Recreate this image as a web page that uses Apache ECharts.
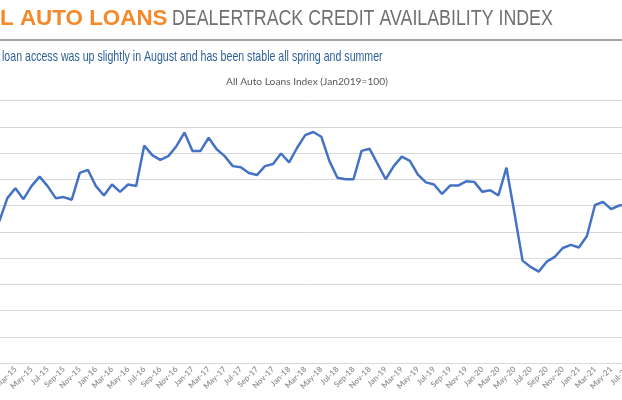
<!DOCTYPE html>
<html>
<head>
<meta charset="utf-8">
<script src="https://cdn.jsdelivr.net/npm/echarts@6/dist/echarts.min.js"></script>
<style>
html,body{margin:0;padding:0;background:#fff;}
#chart{width:622px;height:400px;}
</style>
</head>
<body>
<div id="chart"></div>
<script>
var categories = [
 "Jan-15","Feb-15","Mar-15","Apr-15","May-15","Jun-15","Jul-15","Aug-15","Sep-15","Oct-15","Nov-15","Dec-15",
 "Jan-16","Feb-16","Mar-16","Apr-16","May-16","Jun-16","Jul-16","Aug-16","Sep-16","Oct-16","Nov-16","Dec-16",
 "Jan-17","Feb-17","Mar-17","Apr-17","May-17","Jun-17","Jul-17","Aug-17","Sep-17","Oct-17","Nov-17","Dec-17",
 "Jan-18","Feb-18","Mar-18","Apr-18","May-18","Jun-18","Jul-18","Aug-18","Sep-18","Oct-18","Nov-18","Dec-18",
 "Jan-19","Feb-19","Mar-19","Apr-19","May-19","Jun-19","Jul-19","Aug-19","Sep-19","Oct-19","Nov-19","Dec-19",
 "Jan-20","Feb-20","Mar-20","Apr-20","May-20","Jun-20","Jul-20","Aug-20","Sep-20","Oct-20","Nov-20","Dec-20",
 "Jan-21","Feb-21","Mar-21","Apr-21","May-21","Jun-21","Jul-21","Aug-21"
];
var indexValues = [
 92.0,96.4,98.3,96.2,98.7,100.5,98.7,96.4,96.6,96.1,101.2,101.8,
 98.7,96.9,99.0,97.6,99.0,98.7,106.4,104.6,103.7,104.4,106.3,108.9,
 105.4,105.4,107.9,105.7,104.4,102.5,102.3,101.2,100.8,102.5,102.9,104.9,
 103.2,106.0,108.4,109.0,108.1,103.5,100.3,100.0,100.0,105.4,105.8,102.9,
 100.0,102.5,104.3,103.5,100.9,99.4,99.0,97.2,98.8,98.8,99.6,99.5,
 97.6,97.9,96.9,102.2,93.5,84.5,83.3,82.4,84.3,85.2,86.9,87.5,
 87.0,89.2,95.1,95.7,94.3,95.0,95.1,95.8
];
var titleOrange = "L AUTO LOANS";
var titleGray = "DEALERTRACK CREDIT AVAILABILITY INDEX";
var subtitle = "loan access was up slightly in August and has been stable all spring and summer";
var chartTitle = "All Auto Loans Index (Jan2019=100)";

var chart = echarts.init(document.getElementById('chart'), null, {renderer:'canvas'});
chart.setOption({
  animation: false,
  backgroundColor: '#ffffff',
  graphic: [
    {type:'text', x: 0, y: 8, style:{x:0, y:0, text:titleOrange, font:'bold 22.4px "Liberation Sans", Arial, sans-serif', fill:'#F5892A', verticalAlign:'top'}},
    {type:'text', x: 172, y: 8, scaleX: 0.828, style:{x:0, y:0, text:titleGray, font:'21.5px "Liberation Sans", Arial, sans-serif', fill:'#707070', verticalAlign:'top'}},
    {type:'rect', shape:{x:0, y:39, width:622, height:2}, style:{fill:'#A6A6A6'}},
    {type:'text', x: 2, y: 49.5, scaleX: 0.731, style:{x:0, y:0, text:subtitle, font:'14.5px "Liberation Sans", Arial, sans-serif', fill:'#2E5F99', verticalAlign:'top'}},
    {type:'text', x: 226, y: 77, style:{x:0, y:0, text:chartTitle, font:'10.2px Lato, "Open Sans", sans-serif', fill:'#595959', verticalAlign:'top'}}
  ],
  grid: {left: -0.7, right: -13.25, top: 100.5, bottom: 37, containLabel: false, outerBoundsMode: 'none'},
  xAxis: {
    type: 'category', data: categories, boundaryGap: false,
    axisLine: {show: true, lineStyle: {color: '#D9D9D9', width: 1}},
    axisTick: {show: false},
    axisLabel: {interval: 1, rotate: 45, fontSize: 8, color: '#9A9A9A', margin: 5, fontFamily: 'Lato, "Open Sans", sans-serif', fontWeight: 'bold'},
    splitLine: {show: false}
  },
  yAxis: {
    type: 'value', min: 65, max: 115, interval: 5,
    axisLabel: {show: false}, axisLine: {show: false}, axisTick: {show: false},
    splitLine: {show: true, lineStyle: {color: '#D9D9D9', width: 1}}
  },
  series: [{
    type: 'line', data: indexValues, symbol: 'none', smooth: false,
    lineStyle: {color: '#4472C4', width: 2.5}
  }]
});
</script>
</body>
</html>
